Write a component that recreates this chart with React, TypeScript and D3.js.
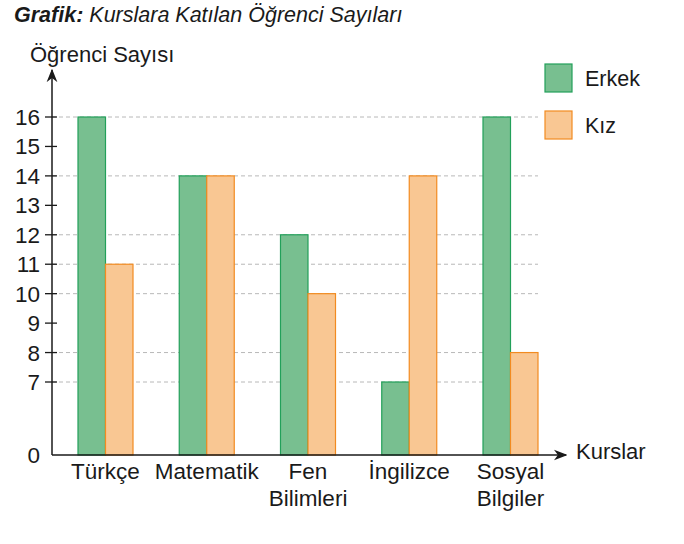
import * as React from 'react';
import * as d3 from 'd3';

const courses = ['Türkçe', 'Matematik', 'Fen Bilimleri', 'İngilizce', 'Sosyal Bilgiler'];
const erkek = [16, 14, 12, 7, 16];
const kiz = [11, 14, 10, 14, 8];
const yTicks = [0, 7, 8, 9, 10, 11, 12, 13, 14, 15, 16];
const seriesNames = ['Erkek', 'Kız'];

const width = 684;
const height = 544;
const font = '"Liberation Sans", Arial, Helvetica, sans-serif';

const green = { fill: '#78bf90', stroke: '#22a05a' };
const orange = { fill: '#f9c793', stroke: '#f28b20' };

export default function App() {
  const axisX = 52;
  const baseY = 455;

  // broken axis: 0..7 squeezed, 7..16 regular
  const y = d3.scaleLinear().domain([0, 7, 16]).range([baseY, 382, 117]);
  const x = d3.scalePoint<string>().domain(courses).range([105.5, 510.5]);
  const barW = 27.5;

  const gridVals = Array.from(new Set([...erkek, ...kiz])).filter(v => v > 0);
  const gridEnd = (x(courses[courses.length - 1]) as number) + barW;

  const series = [
    { name: seriesNames[0], values: erkek, color: green, offset: -barW },
    { name: seriesNames[1], values: kiz, color: orange, offset: 0 },
  ];

  return (
    <svg
      width={width}
      height={height}
      style={{ position: 'absolute', left: 0, top: 0, background: '#fff' }}
      fontFamily={font}
    >
      <defs>
        <marker id="arr" viewBox="0 0 10 10" refX="9" refY="5" markerWidth="9" markerHeight="9" orient="auto">
          <path d="M0,1 L10,5 L0,9 L3,5 Z" fill="#1a1a1a" />
        </marker>
      </defs>

      <text x={14} y={22} fontSize={21.5} fill="#1a1a1a">
        <tspan fontWeight="bold" fontStyle="italic">Grafik:</tspan>
        <tspan fontStyle="italic"> Kurslara Katılan Öğrenci Sayıları</tspan>
      </text>
      <text x={30} y={62} fontSize={22} fill="#1a1a1a">Öğrenci Sayısı</text>

      {gridVals.map(v => (
        <line key={v} x1={axisX} x2={gridEnd} y1={y(v)} y2={y(v)} stroke="#b8b8b8" strokeWidth={1} strokeDasharray="4,3" />
      ))}

      {series.map(s =>
        s.values.map((v, i) => (
          <rect
            key={s.name + i}
            x={(x(courses[i]) as number) + s.offset}
            y={y(v)}
            width={barW}
            height={baseY - y(v)}
            fill={s.color.fill}
            stroke={s.color.stroke}
            strokeWidth={1.2}
          />
        ))
      )}

      {yTicks.map(t => (
        <g key={t}>
          {t > 0 && <line x1={axisX - 7} x2={axisX + 5} y1={y(t)} y2={y(t)} stroke="#1a1a1a" strokeWidth={1.3} />}
          <text x={40} y={y(t) + (t === 0 ? 8 : 8)} textAnchor="end" fontSize={22.5} fill="#1a1a1a">{t}</text>
        </g>
      ))}

      <line x1={axisX} x2={axisX} y1={baseY} y2={70} stroke="#1a1a1a" strokeWidth={1.5} markerEnd="url(#arr)" />
      <line x1={axisX} x2={566} y1={baseY} y2={baseY} stroke="#1a1a1a" strokeWidth={1.5} markerEnd="url(#arr)" />
      <text x={576} y={459} fontSize={22} fill="#1a1a1a">Kurslar</text>

      {courses.map(c => {
        const parts = c.split(' ');
        return (
          <text key={c} x={x(c) as number} y={479} textAnchor="middle" fontSize={22.5} fill="#1a1a1a">
            {parts.map((p, j) => (
              <tspan key={j} x={x(c) as number} dy={j === 0 ? 0 : 27}>{p}</tspan>
            ))}
          </text>
        );
      })}

      {series.map((s, i) => (
        <g key={s.name} transform={`translate(545,${64 + i * 47})`}>
          <rect width={27} height={28} fill={s.color.fill} stroke={s.color.stroke} strokeWidth={1.2} />
          <text x={40} y={22} fontSize={21.5} fill="#1a1a1a">{s.name}</text>
        </g>
      ))}
    </svg>
  );
}
